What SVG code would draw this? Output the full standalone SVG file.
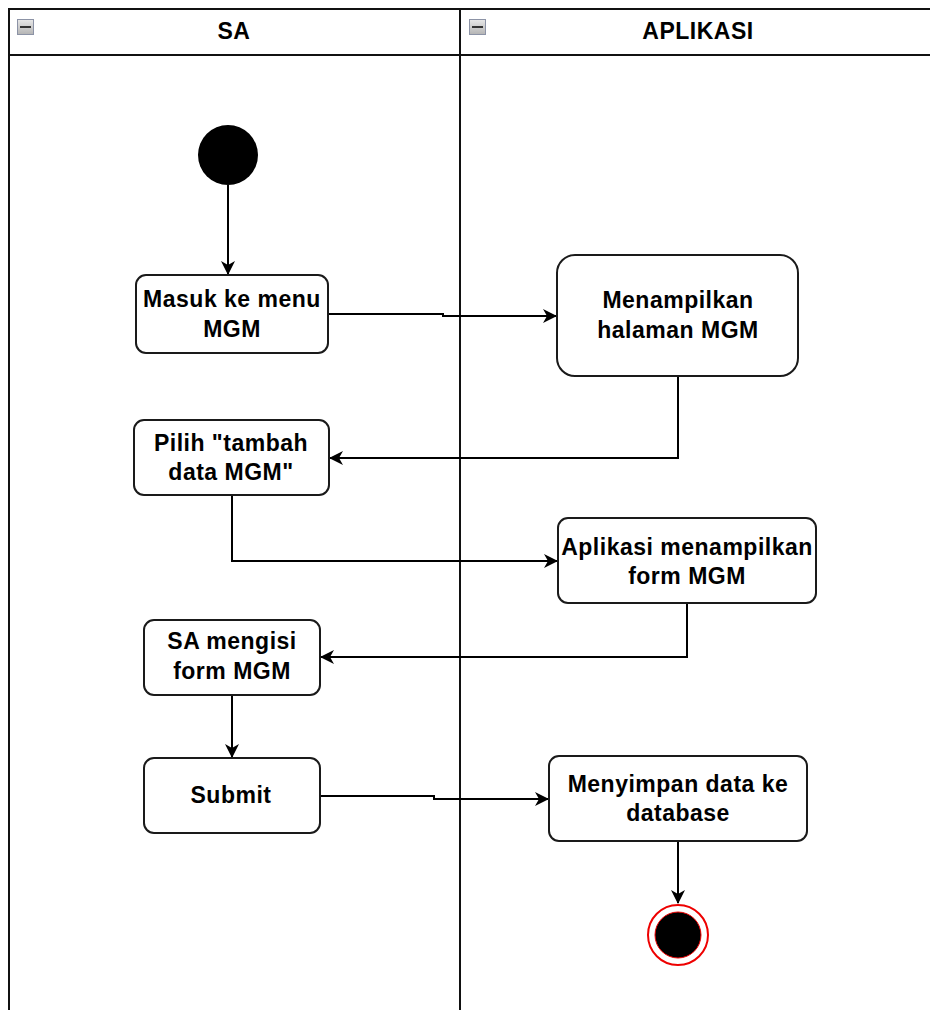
<svg xmlns="http://www.w3.org/2000/svg" width="930" height="1010" viewBox="0 0 930 1010">
  <style>
    .lane { fill: none; stroke: #111; stroke-width: 2; }
    .node rect { fill: #fff; stroke: #1a1a1a; stroke-width: 2; }
    .label { font-family: "Liberation Sans", Arial, sans-serif; font-weight: bold; font-size: 23px; letter-spacing: 0.5px; fill: #000; text-anchor: middle; }
    .edge { fill: none; stroke: #000; stroke-width: 2; }
    .icon { fill: url(#iconFill); stroke: #8c93a6; stroke-width: 1; }
  </style>
  <defs>
    <linearGradient id="iconFill" x1="0" y1="0" x2="0" y2="1">
      <stop offset="0" stop-color="#e8e8e8"/>
      <stop offset="1" stop-color="#b4b4b4"/>
    </linearGradient>
    <marker id="arrow" viewBox="0 0 14 14" refX="13" refY="7" markerWidth="14" markerHeight="14" markerUnits="userSpaceOnUse" orient="auto">
      <path d="M0,0 L14,7 L0,14 L4,7 Z" fill="#000"/>
    </marker>
  </defs>

  <rect width="930" height="1010" fill="#fff"/>

  <!-- swimlane frame -->
  <g id="lanes">
    <path class="lane" d="M9,1010 V9 H930 M9,55 H930 M460,9 V1010"/>
    <rect class="icon" x="17.5" y="19.5" width="16" height="15"/>
    <line x1="20" y1="27" x2="31" y2="27" stroke="#333" stroke-width="2"/>
    <rect class="icon" x="469.5" y="19.5" width="16" height="15"/>
    <line x1="472" y1="27" x2="483" y2="27" stroke="#333" stroke-width="2"/>
    <text class="label" x="234" y="39">SA</text>
    <text class="label" x="698" y="39">APLIKASI</text>
  </g>

  <!-- connectors -->
  <g id="connectors">
    <path class="edge" d="M228,185 V274" marker-end="url(#arrow)"/>
    <path class="edge" d="M328,314 H443 V316 H556" marker-end="url(#arrow)"/>
    <path class="edge" d="M678,376 V458 H330" marker-end="url(#arrow)"/>
    <path class="edge" d="M232,495 V561 H557" marker-end="url(#arrow)"/>
    <path class="edge" d="M687,603 V657 H321" marker-end="url(#arrow)"/>
    <path class="edge" d="M232,695 V757" marker-end="url(#arrow)"/>
    <path class="edge" d="M320,796 H434 V799 H548" marker-end="url(#arrow)"/>
    <path class="edge" d="M678,841 V903" marker-end="url(#arrow)"/>
  </g>

  <!-- start -->
  <g id="start">
    <circle cx="228" cy="155" r="30" fill="#000"/>
  </g>

  <g id="masuk-menu" class="node">
    <rect x="136" y="275" width="192" height="78" rx="10"/>
    <text class="label" x="232" y="307">Masuk ke menu</text>
    <text class="label" x="232" y="337">MGM</text>
  </g>

  <g id="menampilkan-halaman" class="node">
    <rect x="557" y="255" width="241" height="121" rx="18"/>
    <text class="label" x="678" y="308">Menampilkan</text>
    <text class="label" x="678" y="338">halaman MGM</text>
  </g>

  <g id="pilih-tambah" class="node">
    <rect x="134" y="420" width="195" height="75" rx="10"/>
    <text class="label" x="231" y="451">Pilih "tambah</text>
    <text class="label" x="231" y="480">data MGM"</text>
  </g>

  <g id="tampil-form" class="node">
    <rect x="558" y="518" width="258" height="85" rx="10"/>
    <text class="label" x="687" y="555">Aplikasi menampilkan</text>
    <text class="label" x="687" y="584">form MGM</text>
  </g>

  <g id="isi-form" class="node">
    <rect x="144" y="620" width="176" height="75" rx="10"/>
    <text class="label" x="232" y="649">SA mengisi</text>
    <text class="label" x="232" y="679">form MGM</text>
  </g>

  <g id="submit" class="node">
    <rect x="144" y="758" width="176" height="75" rx="10"/>
    <text class="label" x="231" y="803">Submit</text>
  </g>

  <g id="simpan-data" class="node">
    <rect x="549" y="756" width="258" height="85" rx="10"/>
    <text class="label" x="678" y="792">Menyimpan data ke</text>
    <text class="label" x="678" y="821">database</text>
  </g>

  <!-- end -->
  <g id="end">
    <circle cx="678" cy="935" r="30" fill="#fff" stroke="#e00" stroke-width="2"/>
    <circle cx="678" cy="935" r="23" fill="#000" stroke="#e00" stroke-width="1"/>
  </g>
</svg>
